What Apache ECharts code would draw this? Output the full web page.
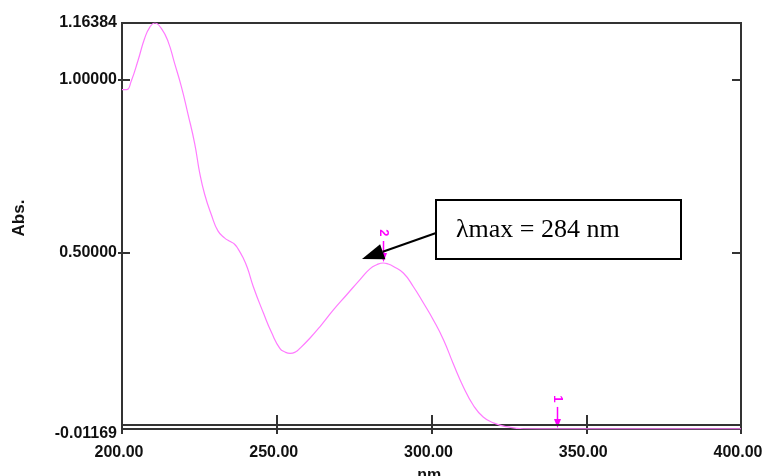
<!DOCTYPE html>
<html><head><meta charset="utf-8">
<script src="https://cdn.jsdelivr.net/npm/echarts@6/dist/echarts.min.js"></script>
<style>html,body{margin:0;padding:0;background:#fff}#c{width:764px;height:476px}</style>
</head><body><div id="c"></div>
<script>
// ---- data ----
const wavelengths = [200.0,201.5,203.0,205.2,207.3,209.0,210.6,212.7,214.9,217.0,219.2,221.3,223.5,225.1,226.7,228.9,231.0,233.2,235.0,236.3,237.5,239.0,240.5,242.4,245.7,248.4,251.0,252.7,254.3,256.0,257.5,260.7,264.0,268.3,272.6,276.9,280.1,282.3,284.4,286.0,287.7,290.9,294.1,297.4,300.6,303.9,307.0,310.3,313.5,316.7,320.0,324.3,329.7,340.0,360.0,380.0,400.0];
const absorbance = [0.971,0.971,0.996,1.056,1.119,1.152,1.1638,1.148,1.110,1.047,0.979,0.901,0.814,0.730,0.668,0.608,0.562,0.541,0.531,0.524,0.510,0.486,0.455,0.401,0.324,0.266,0.222,0.211,0.207,0.211,0.222,0.251,0.285,0.333,0.377,0.421,0.452,0.464,0.469,0.466,0.459,0.440,0.401,0.353,0.304,0.246,0.178,0.110,0.057,0.023,0.006,-0.005,-0.011,-0.0115,-0.0115,-0.0115,-0.0115];
const xTickValues = [200, 250, 300, 350, 400];
const yLabelValues = [-0.01169, 0.5, 1.0, 1.16384];
const yTickValues = [0.5, 1.0];
const peakLabels = ['1', '2'];
const peakWavelengths = [340.6, 284.4];
const peakAbs = [-0.0115, 0.469];
const annotationText = 'λmax = 284 nm';
const xName = 'nm.';
const yName = 'Abs.';

const yMin = yLabelValues[0], yMax = yLabelValues[yLabelValues.length - 1];
const xMin = xTickValues[0], xMax = xTickValues[xTickValues.length - 1];
const FRAME = '#333';
const LABEL_FONT = { color: '#111', fontWeight: 'bold', fontSize: 16, fontFamily: '"Liberation Sans", Arial, sans-serif' };

const chart = echarts.init(document.getElementById('c'), null, { renderer: 'canvas' });
const seriesData = wavelengths.map((w, i) => [w, absorbance[i]]);

chart.setOption({
  animation: false,
  backgroundColor: '#fff',
  grid: { left: 122, right: 23, top: 23, bottom: 47, containLabel: false, outerBoundsMode: 'none',
    show: true, borderColor: FRAME, borderWidth: 2, backgroundColor: 'transparent' },
  xAxis: [
    { type: 'value', position: 'bottom', min: xMin, max: xMax, interval: 50, offset: 4,
      axisLine: { show: true, lineStyle: { color: FRAME, width: 2 } },
      axisTick: { show: true, inside: true, length: 10, lineStyle: { color: FRAME, width: 2 } },
      splitLine: { show: false },
      axisLabel: Object.assign({ margin: 12, padding: [0, 6, 0, 0], formatter: v => v.toFixed(2) }, LABEL_FONT),
      name: xName, nameLocation: 'middle', nameGap: 35,
      nameTextStyle: Object.assign({}, LABEL_FONT)
    },
    { type: 'value', position: 'top', min: xMin, max: xMax, interval: 50,
      axisLine: { show: false }, axisLabel: { show: false }, splitLine: { show: false },
      axisTick: { show: true, inside: true, length: 9, lineStyle: { color: FRAME, width: 2 } }
    }
  ],
  yAxis: [
    { type: 'value', position: 'left', min: yMin, max: yMax,
      axisLine: { show: false }, splitLine: { show: false },
      axisTick: { show: true, inside: true, length: 8, customValues: yTickValues, lineStyle: { color: FRAME, width: 2 } },
      axisLabel: Object.assign({ margin: 5, customValues: yLabelValues,
        formatter: v => (Math.abs(v - yMin) < 1e-9 ? '{low|' + v.toFixed(5) + '}' : v.toFixed(5)),
        rich: { low: Object.assign({ padding: [10, 0, 0, 0] }, LABEL_FONT) } }, LABEL_FONT)
    },
    { type: 'value', position: 'left', min: yMin, max: yMax,
      axisLine: { show: false }, splitLine: { show: false }, axisLabel: { show: false },
      axisTick: { show: true, inside: false, length: 4, customValues: yTickValues, lineStyle: { color: FRAME, width: 2 } }
    },
    { type: 'value', position: 'right', min: yMin, max: yMax,
      axisLine: { show: false }, splitLine: { show: false }, axisLabel: { show: false },
      axisTick: { show: true, inside: true, length: 9, customValues: yTickValues, lineStyle: { color: FRAME, width: 2 } }
    }
  ],
  series: [{
    type: 'line', xAxisIndex: 0, yAxisIndex: 0, data: seriesData, smooth: 0.5,
    showSymbol: false, symbol: 'none',
    lineStyle: { color: '#ff7bff', width: 1.2 }
  }]
});

// ---- annotations (positions derived from the axes) ----
const toPx = (x, y) => chart.convertToPixel({ xAxisIndex: 0, yAxisIndex: 0 }, [x, y]);
const els = [];
const bl = toPx(xMin, yMin), br = toPx(xMax, yMin);
els.push({ type: 'line', shape: { x1: bl[0], y1: bl[1], x2: bl[0], y2: bl[1] + 4 }, style: { stroke: FRAME, lineWidth: 2 } });
els.push({ type: 'line', shape: { x1: br[0], y1: br[1], x2: br[0], y2: br[1] + 4 }, style: { stroke: FRAME, lineWidth: 2 } });

els.push({ type: 'text', x: 19, y: 218, rotation: Math.PI / 2,
  style: { text: yName, font: 'bold 17px "Liberation Sans", Arial, sans-serif', fill: '#111', align: 'center', verticalAlign: 'middle', textAlign: 'center', textVerticalAlign: 'middle' } });

const MAG = '#ff00ff';
peakLabels.forEach((lab, i) => {
  const p = toPx(peakWavelengths[i], peakAbs[i]);
  const tip = p[1] - 1, x = Math.round(p[0]) + 0.5;
  els.push({ type: 'line', shape: { x1: x, y1: tip - 21, x2: x, y2: tip - 6 }, style: { stroke: MAG, lineWidth: 1.5 } });
  els.push({ type: 'polygon', shape: { points: [[x - 3.5, tip - 9], [x + 3.5, tip - 9], [x, tip]] }, style: { fill: MAG } });
  els.push({ type: 'text', x: x, y: tip - 29, rotation: -Math.PI / 2,
    style: { text: lab, font: 'bold 13px "Liberation Sans", Arial, sans-serif', fill: MAG, align: 'center', verticalAlign: 'middle', textAlign: 'center', textVerticalAlign: 'middle' } });
});

// callout box
const bx = 436, by = 200, bw = 245, bh = 59;
els.push({ type: 'rect', shape: { x: bx, y: by, width: bw, height: bh }, style: { fill: '#fff', stroke: '#000', lineWidth: 2 }, z: 100 });
els.push({ type: 'text', x: bx + 20, y: by + bh / 2 + 1, z: 101,
  style: { text: annotationText, font: '26px "Liberation Serif", "Times New Roman", serif', fill: '#000', align: 'left', verticalAlign: 'middle', textAlign: 'left', textVerticalAlign: 'middle' } });
// arrow
const sx = bx, sy = 233, tx = 362, ty = 259;
const dx = sx - tx, dy = sy - ty, L = Math.hypot(dx, dy), ux = dx / L, uy = dy / L;
const hl = 22, hw = 8;
const cx = tx + ux * hl, cy = ty + uy * hl;
els.push({ type: 'line', shape: { x1: sx, y1: sy, x2: cx, y2: cy }, style: { stroke: '#000', lineWidth: 2 }, z: 100 });
els.push({ type: 'polygon', shape: { points: [[tx, ty], [cx - uy * hw, cy + ux * hw], [cx + uy * hw, cy - ux * hw]] }, style: { fill: '#000' }, z: 100 });

chart.setOption({ graphic: { elements: els } });
</script>
</body></html>
